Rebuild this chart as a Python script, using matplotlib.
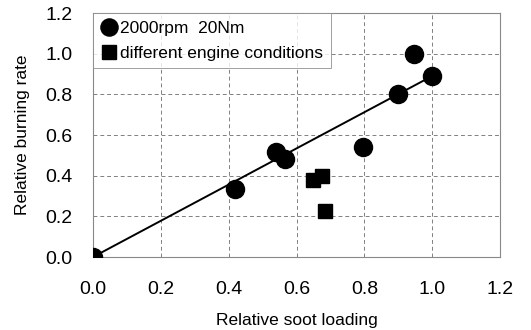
import matplotlib
matplotlib.use("Agg")
import matplotlib.pyplot as plt

plt.rcParams['font.family'] = ['Liberation Sans', 'DejaVu Sans']

# 2000rpm 20Nm points
soot_a = [0.0, 0.42, 0.54, 0.565, 0.795, 0.90, 0.945, 1.0]
burn_a = [0.0, 0.335, 0.515, 0.48, 0.54, 0.80, 1.0, 0.89]

# different engine conditions
soot_b = [0.648, 0.676, 0.685]
burn_b = [0.38, 0.397, 0.225]

# fit line
fit_x = [0.0, 1.0]
fit_y = [0.0, 0.89]

ticks = [0.0, 0.2, 0.4, 0.6, 0.8, 1.0, 1.2]

fig = plt.figure(figsize=(5.31, 3.30), dpi=100)
ax = fig.add_axes([93 / 531, 1 - 257 / 330, (500 - 93) / 531, (257 - 13) / 330])

ax.plot(fit_x, fit_y, color='black', lw=1.4, zorder=3)
ax.plot(soot_a, burn_a, 'o', color='black', ms=13, ls='none',
        label='2000rpm  20Nm', zorder=4)
ax.plot(soot_b, burn_b, 's', color='black', ms=10, ls='none',
        label='different engine conditions', zorder=4)

ax.set_xlim(0, 1.2)
ax.set_ylim(0, 1.2)
ax.set_xticks(ticks)
ax.set_yticks(ticks)
ax.set_xticklabels(['%.1f' % t for t in ticks])
ax.set_yticklabels(['%.1f' % t for t in ticks])
ax.tick_params(axis='x', length=0, labelsize=14, pad=17)
ax.tick_params(axis='y', length=0, labelsize=14, pad=15)
ax.grid(True, ls=(0, (4, 3)), color='#808080', lw=0.7)
for s in ax.spines.values():
    s.set_color('#888888')
    s.set_linewidth(0.8)

ax.set_xlabel('Relative soot loading', fontsize=12.5, labelpad=11)
ax.set_ylabel('Relative burning rate', fontsize=12.5, labelpad=11)

leg = ax.legend(loc='upper left', fontsize=12.5, frameon=True, fancybox=False,
                borderaxespad=0, handletextpad=0.1, handlelength=1.0,
                borderpad=0.45, labelspacing=0.55, markerscale=0.95)
leg.get_frame().set_edgecolor('#888888')
leg.get_frame().set_linewidth(0.7)

fig.savefig('out.png', dpi=100)
